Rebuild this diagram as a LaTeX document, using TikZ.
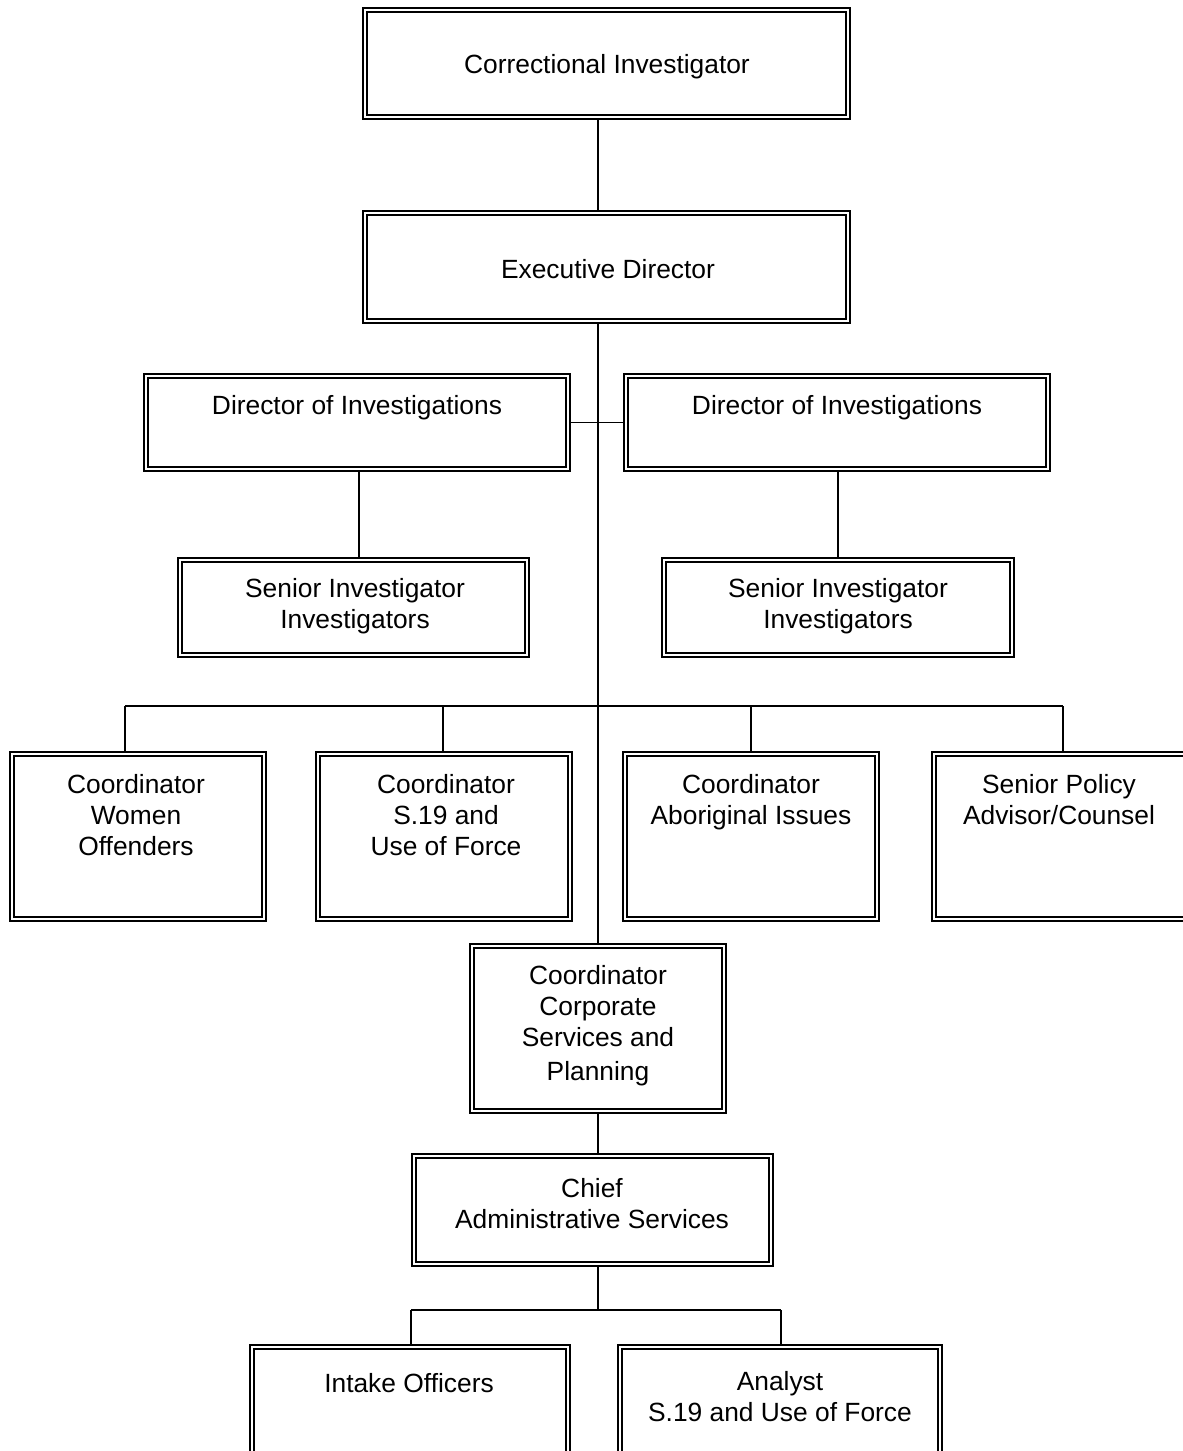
\documentclass[tikz,border=0pt]{standalone}
\usepackage{fontspec}
\setmainfont{Liberation Sans}
\usepackage{tikz}
\usetikzlibrary{calc}

\tikzset{
    unitbox/.style={draw, double, double distance=1.1pt, line width=1.2pt, inner sep=0pt},
    unittext/.style={align=center, inner sep=0pt, font=\fontsize{15}{17.6}\selectfont},
    link/.style={line width=0.8pt},
}

\begin{document}
\begin{tikzpicture}[x=0.02cm, y=-0.02cm]
    \clip (0,0) rectangle (1183,1451);

    % boxes
    \node[unitbox, minimum width=9.66cm, minimum height=2.14cm] (ci) at (606.5, 63.5) {};
    \node[unitbox, minimum width=9.66cm, minimum height=2.16cm] (ed) at (606.5, 267) {};

    \node[unitbox, minimum width=8.44cm, minimum height=1.86cm] (dirl) at (357, 422.5) {};
    \node[unitbox, minimum width=8.44cm, minimum height=1.86cm] (dirr) at (837, 422.5) {};

    \node[unitbox, minimum width=6.94cm, minimum height=1.90cm] (senl) at (353.5, 607.5) {};
    \node[unitbox, minimum width=6.96cm, minimum height=1.90cm] (senr) at (838, 607.5) {};

    \node[unitbox, minimum width=5.04cm, minimum height=3.30cm] (cw) at (138, 836.5) {};
    \node[unitbox, minimum width=5.04cm, minimum height=3.30cm] (cs) at (444, 836.5) {};
    \node[unitbox, minimum width=5.04cm, minimum height=3.30cm] (ca) at (751, 836.5) {};
    \node[unitbox, minimum width=5.04cm, minimum height=3.30cm] (sp) at (1060, 836.5) {};

    \node[unitbox, minimum width=5.04cm, minimum height=3.30cm] (cc) at (598, 1028.5) {};
    \node[unitbox, minimum width=7.14cm, minimum height=2.16cm] (chief) at (592.5, 1210) {};

    \node[unitbox, minimum width=6.32cm, minimum height=2.20cm] (intake) at (410, 1402) {};
    \node[unitbox, minimum width=6.40cm, minimum height=2.20cm] (analyst) at (780, 1402) {};

    % labels
    \node[unittext] (ci-t) at (607, 67) {Correctional Investigator};
    \node[unittext] (ed-t) at (608, 269) {Executive Director};
    \node[unittext] (dirl-t) at (357, 408) {Director of Investigations};
    \node[unittext] (dirr-t) at (837, 408) {Director of Investigations};
    \node[unittext] (senl-t) at (355, 606) {Senior Investigator\\Investigators};
    \node[unittext] (senr-t) at (838, 606) {Senior Investigator\\Investigators};
    \node[unittext] (cw-t) at (136, 815) {Coordinator\\Women\\Offenders};
    \node[unittext] (cs-t) at (446, 815) {Coordinator\\S.19 and\\Use of Force};
    \node[unittext] (ca-t) at (751, 802) {Coordinator\\Aboriginal Issues};
    \node[unittext] (sp-t) at (1059, 800) {Senior Policy\\Advisor/Counsel};
    \node[unittext] (cc-t) at (598, 1026) {Coordinator\\Corporate\\Services and\\[2pt]Planning};
    \node[unittext] (chief-t) at (592, 1204) {Chief\\Administrative Services};
    \node[unittext] (intake-t) at (409, 1383) {Intake Officers};
    \node[unittext] (analyst-t) at (780, 1397) {Analyst\\S.19 and Use of Force};

    % bus points
    \coordinate (b1) at (125, 706);
    \coordinate (b2) at (443, 706);
    \coordinate (b3) at (751, 706);
    \coordinate (b4) at (1063, 706);
    \coordinate (c1) at (411, 1310);
    \coordinate (c2) at (781, 1310);

    % connectors
    \draw[link] (ci.south -| cc.north) -- (ed.north -| cc.north);
    \draw[link] (ed.south -| cc.north) -- (cc.north);
    \draw[link] (dirl.east) -- (dirr.west |- dirl.east);
    \draw[link] (senl.north -| 359,0) -- (dirl.south -| 359,0);
    \draw[link] (dirr.south -| senr.north) -- (senr.north);
    \draw[link] (b1) -- (b4);
    \draw[link] (b1) -- (b1 |- cw.north);
    \draw[link] (b2) -- (b2 |- cs.north);
    \draw[link] (b3) -- (b3 |- ca.north);
    \draw[link] (b4) -- (b4 |- sp.north);
    \draw[link] (cc.south) -- (cc.south |- chief.north);
    \draw[link] (chief.south -| cc.south) -- (cc.south |- c1);
    \draw[link] (c1) -- (c2);
    \draw[link] (c1) -- (c1 |- intake.north);
    \draw[link] (c2) -- (c2 |- analyst.north);
\end{tikzpicture}
\end{document}
